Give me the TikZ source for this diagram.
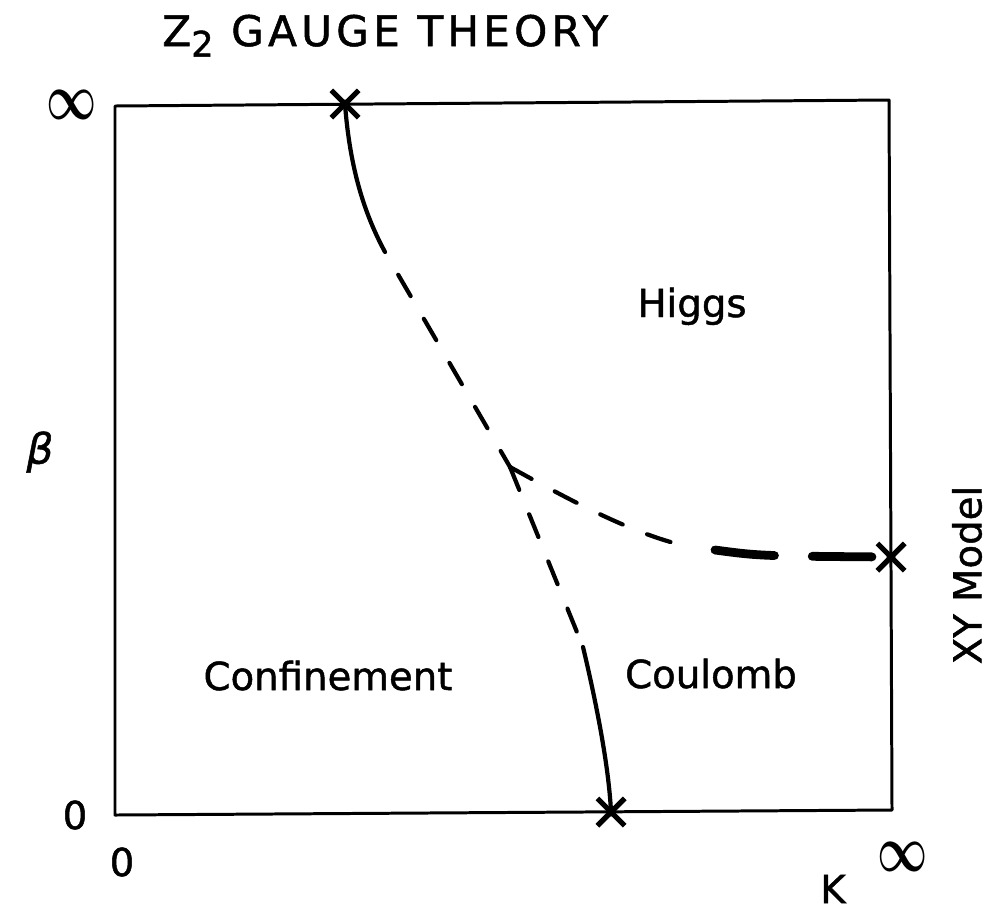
\documentclass[tikz,border=0pt]{standalone}
\usepackage{fontspec}
\usepackage{graphicx}
\newfontfamily\labfont{DejaVu Sans}[FakeBold=1.2]
\newfontfamily\greekfont{DejaVu Sans Oblique}[FakeBold=1.2]
\newfontfamily\titlefont{DejaVu Sans}[LetterSpace=10,FakeBold=1.2]
\usetikzlibrary{shapes.misc}
\begin{document}
\begin{tikzpicture}[x=0.02cm,y=-0.02cm,
  lbl/.style={font=\labfont\fontsize{22}{26}\selectfont, inner sep=0pt},
  xmark/.style={cross out, draw, minimum size=0.44cm, inner sep=0pt, line width=3pt},
  frame/.style={line width=1.7pt, line join=round},
  pcurve/.style={line width=2.4pt, line cap=round},
  thindash/.style={pcurve, dash pattern=on 14pt off 15pt},
  thickdash/.style={line width=5pt, line cap=round, dash pattern=on 34pt off 21.5pt}]
\useasboundingbox (0,0) rectangle (999,910);
% frame
\coordinate (TL) at (115,106);
\coordinate (TR) at (889,100);
\coordinate (BR) at (892,810);
\coordinate (BL) at (115,815);
\draw[frame] (TL) -- (TR) -- (BR) -- (BL) -- cycle;
% end points and phase boundary points
\node[xmark] (ctop) at (345,104) {};
\node[xmark] (cbot) at (611,812) {};
\node[xmark] (cxy) at (891,557) {};
\fill (ctop.center) circle (4.5);
\fill (cbot.center) circle (4.5);
\fill (cxy.center) circle (4.5);
\coordinate (tp) at (510,467);
\coordinate (s1) at (385,252);
\coordinate (s2) at (583,647);
\coordinate (h0) at (690,547);
\coordinate (h1) at (715,550);
% phase boundaries
\draw[pcurve] (ctop.center) .. controls (350,170) and (365,215) .. (s1);
\draw[thindash, dash phase=14pt] (s1) -- (tp);
\draw[thindash] (tp) -- (s2);
\draw[pcurve] (s2) .. controls (598,710) and (609,770) .. (cbot.center);
\draw[thindash] (tp) .. controls (575,503) and (635,535) .. (h0);
\draw[thickdash] (h1) .. controls (760,556) .. (cxy.center);
% labels
\node[font=\titlefont\fontsize{24}{28}\selectfont, inner sep=0pt, anchor=base west] (title) at (162,46)
  {Z\raisebox{-6pt}{\fontsize{20}{20}\selectfont 2} GAUGE THEORY};
\node[lbl, anchor=base] (higgs) at (692,317) {Higgs};
\node[lbl, anchor=base] (conf) at (328,690) {Confinement};
\node[lbl, anchor=base] (coul) at (711,688) {Coulomb};
\node[lbl, rotate=90] (xy) at (967,575) {XY Model};
\node[inner sep=0pt] (beta) at (40,452) {\greekfont\fontsize{24}{28}\selectfont β};
\node[inner sep=0pt] (inftop) at (72,105) {\scalebox{1}[1.5]{\fontsize{24}{24}\selectfont\boldmath$\infty$}};
\node[lbl] (zleft) at (75,815) {0};
\node[lbl] (zbot) at (122,862) {0};
\node[inner sep=0pt] (infbot) at (903,857) {\scalebox{1}[1.5]{\fontsize{24}{24}\selectfont\boldmath$\infty$}};
\node[lbl] (kay) at (833,889) {K};
\end{tikzpicture}
\end{document}
